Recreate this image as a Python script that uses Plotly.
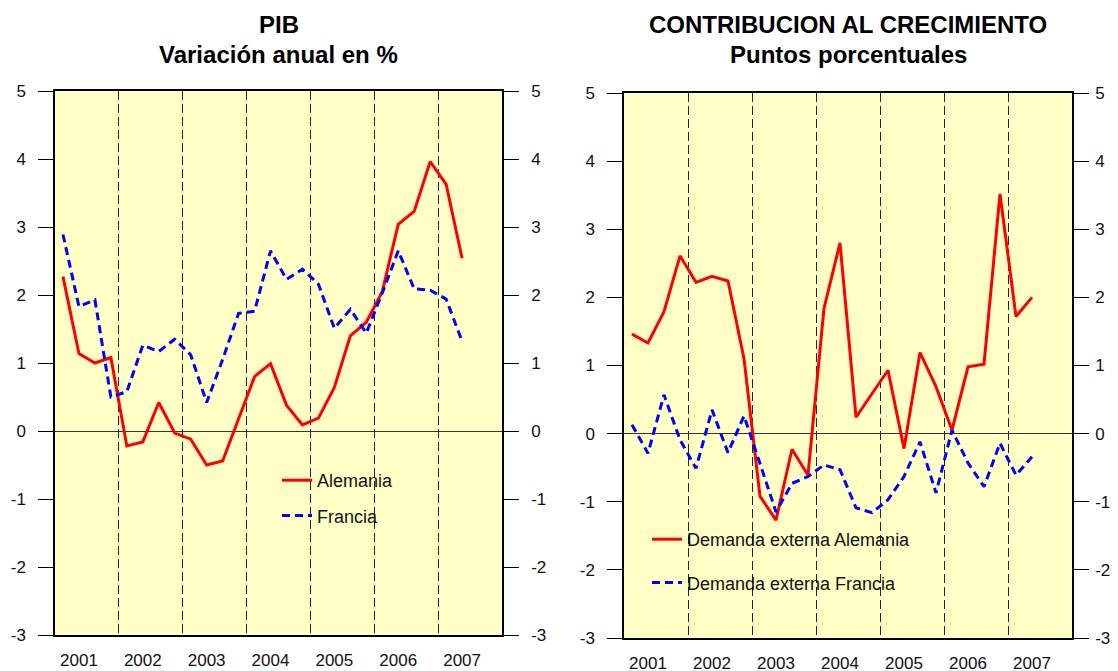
import plotly.graph_objects as go

# ---------------- data (quarterly, 2001Q1 .. 2007Q2) ----------------
years = ["2001", "2002", "2003", "2004", "2005", "2006", "2007"]

pib_alemania = [2.27, 1.14, 1.00, 1.08, -0.22, -0.16, 0.42, -0.03, -0.12, -0.50,
                -0.44, 0.18, 0.80, 0.99, 0.38, 0.09, 0.19, 0.64, 1.40, 1.60,
                2.05, 3.04, 3.23, 3.96, 3.63, 2.54]
pib_francia = [2.89, 1.83, 1.93, 0.50, 0.58, 1.26, 1.17, 1.35, 1.12, 0.42,
               1.05, 1.73, 1.76, 2.65, 2.23, 2.38, 2.16, 1.51, 1.79, 1.44,
               2.03, 2.65, 2.09, 2.07, 1.94, 1.32]

dex_alemania = [1.46, 1.33, 1.79, 2.61, 2.22, 2.31, 2.24, 1.10, -0.92, -1.27,
                -0.23, -0.61, 1.84, 2.80, 0.24, 0.59, 0.93, -0.22, 1.19, 0.69,
                0.05, 0.98, 1.02, 3.52, 1.72, 2.00]
dex_francia = [0.13, -0.29, 0.57, -0.09, -0.51, 0.35, -0.28, 0.26, -0.44, -1.15,
               -0.73, -0.63, -0.46, -0.53, -1.09, -1.16, -0.97, -0.63, -0.12, -0.87,
               0.05, -0.43, -0.78, -0.14, -0.61, -0.34]

y_ticks = [-3, -2, -1, 0, 1, 2, 3, 4, 5]
y_ticklabels = ["-3", "-2", "-1", "0", "1", "2", "3", "4", "5"]

titles_left = ["PIB", "Variación anual en %"]
titles_right = ["CONTRIBUCION AL CRECIMIENTO", "Puntos porcentuales"]

# ---------------- styling ----------------
OFF = 8  # page body margin offset
W, H = 1118 - OFF, 671
FONT = "Liberation Sans, Arial, sans-serif"
BG = "#FFFFC6"
RED = "#FF0000"
BLUE = "#0000FF"

q = list(range(len(pib_alemania)))            # quarter index
year_pos = [4 * k + 1 for k in range(len(years))]  # label at Q2 of each year


def xdom(a, b):
    return [(a - OFF) / W, (b - OFF) / W]


def ydom(top, bottom):
    return [1 - (bottom - OFF) / H, 1 - (top - OFF) / H]


def px(x):
    return (x - OFF) / W


def py(y):
    return 1 - (y - OFF) / H


fig = go.Figure()

# Left panel
fig.add_trace(go.Scatter(x=q, y=pib_alemania, mode="lines", name="Alemania",
                         line=dict(color=RED, width=3), xaxis="x", yaxis="y",
                         legend="legend", legendgroup="a"))
fig.add_trace(go.Scatter(x=q, y=pib_francia, mode="lines", name="Francia",
                         line=dict(color=BLUE, width=3, dash="8px,5px"), xaxis="x", yaxis="y",
                         legend="legend", legendgroup="b"))
fig.add_trace(go.Scatter(x=[], y=[], xaxis="x", yaxis="y2", showlegend=False, hoverinfo="skip"))

# Right panel
fig.add_trace(go.Scatter(x=q, y=dex_alemania, mode="lines", name="Demanda externa Alemania",
                         line=dict(color=RED, width=3), xaxis="x2", yaxis="y3",
                         legend="legend2", legendgroup="c"))
fig.add_trace(go.Scatter(x=q, y=dex_francia, mode="lines", name="Demanda externa Francia",
                         line=dict(color=BLUE, width=3, dash="8px,5px"), xaxis="x2", yaxis="y3",
                         legend="legend2", legendgroup="d"))
fig.add_trace(go.Scatter(x=[], y=[], xaxis="x2", yaxis="y4", showlegend=False, hoverinfo="skip"))

xrange = [-0.5, len(q) + 1.5]


def xaxis(domain, anchor):
    return dict(domain=domain, anchor=anchor, range=xrange, showgrid=False, zeroline=False,
                automargin=False,
                tickmode="array", tickvals=year_pos, ticktext=years, ticks="",
                tickfont=dict(family=FONT, size=17, color="#111"),
                ticklabelstandoff=9,
                showline=True, mirror=True, linecolor="black", linewidth=1.5,
                minor=dict(tick0=3.5, dtick=4, showgrid=True, gridcolor="#222",
                           griddash="9px,4px", gridwidth=1, ticks=""))


def yaxis(domain, anchor, side, overlay=None, zero=True, standoff=9):
    d = dict(domain=domain, anchor=anchor, range=[-3, 5], side=side, automargin=False,
             tickmode="array", tickvals=y_ticks, ticktext=y_ticklabels,
             ticks="outside", ticklen=15, tickwidth=1, tickcolor="black",
             tickfont=dict(family=FONT, size=17, color="#111"),
             ticklabelstandoff=standoff,
             showgrid=False, zeroline=zero, zerolinecolor="#333", zerolinewidth=1,
             showline=True, linecolor="black", linewidth=1.5)
    if overlay:
        d["overlaying"] = overlay
    return d


LX = xdom(55, 502)
RX = xdom(624, 1072)
LY = ydom(91, 635)
RY = ydom(93, 638)

annotations = []
for texts, cx in ((titles_left, 278.5), (titles_right, 848)):
    for i, t in enumerate(texts):
        annotations.append(dict(text=t, x=px(cx), y=py(25 + 30 * i), xref="paper", yref="paper",
                                xanchor="center", yanchor="middle", showarrow=False,
                                font=dict(family=FONT, size=24, color="black", weight="bold")))

fig.update_layout(
    width=W, height=H,
    margin=dict(l=0, r=0, t=0, b=0, autoexpand=False),
    paper_bgcolor="white", plot_bgcolor=BG,
    xaxis=xaxis(LX, "y"),
    yaxis=yaxis(LY, "x", "left"),
    yaxis2=yaxis(LY, "x", "right", overlay="y", zero=False),
    xaxis2=xaxis(RX, "y3"),
    yaxis3=yaxis(RY, "x2", "left"),
    yaxis4=yaxis(RY, "x2", "right", overlay="y3", zero=False, standoff=3),
    legend=dict(x=px(277), y=py(462), xanchor="left", yanchor="top",
                bgcolor="rgba(0,0,0,0)", borderwidth=0, traceorder="grouped",
                tracegroupgap=9, font=dict(family=FONT, size=18, color="#111")),
    legend2=dict(x=px(647), y=py(521), xanchor="left", yanchor="top",
                 bgcolor="rgba(0,0,0,0)", borderwidth=0, traceorder="grouped",
                 tracegroupgap=17, font=dict(family=FONT, size=18, color="#111")),
    annotations=annotations,
    showlegend=True,
)

fig.write_html("out.html")
